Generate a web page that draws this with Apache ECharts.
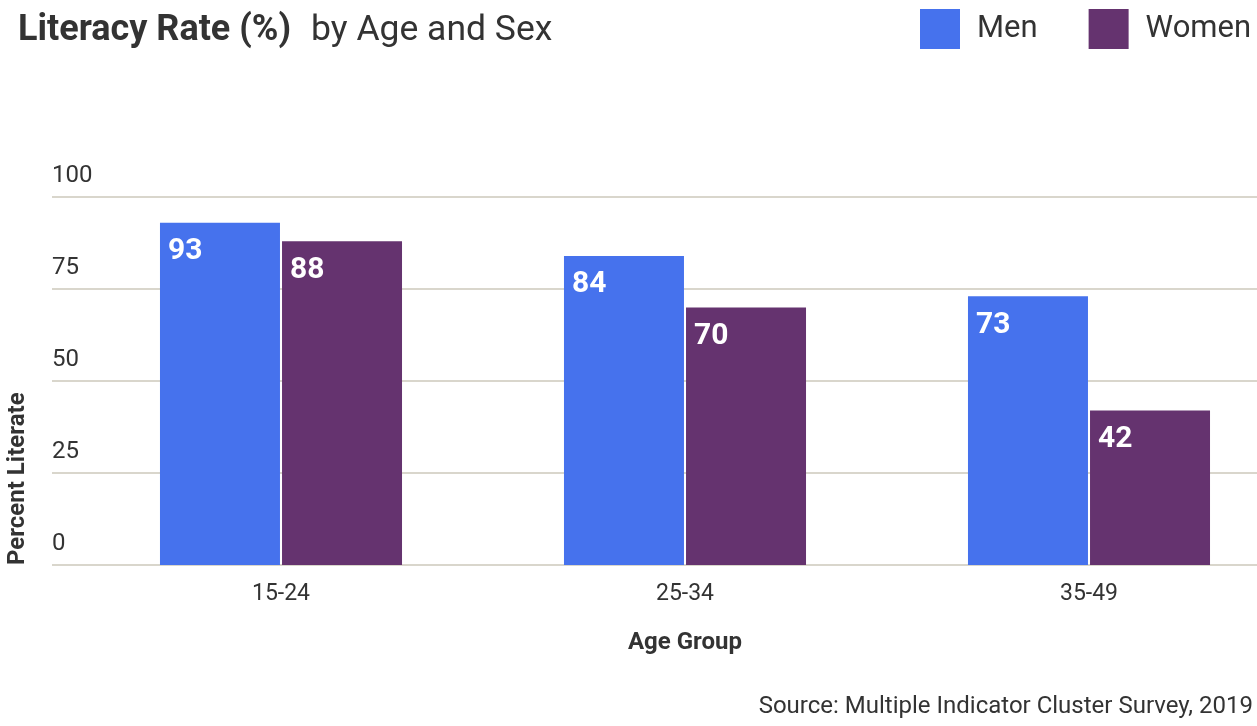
<!DOCTYPE html>
<html>
<head>
<meta charset="utf-8">
<script src="https://cdn.jsdelivr.net/npm/echarts@6/dist/echarts.min.js"></script>
<style>
html,body{margin:0;padding:0;background:#fff;overflow:hidden;}
#chart{width:1300px;height:726px;}
</style>
</head>
<body>
<div id="chart"></div>
<script>
var categories = ['15-24', '25-34', '35-49'];
var menValues = [93, 84, 73];
var womenValues = [88, 70, 42];
var seriesNames = ['Men', 'Women'];
var yTicks = [0, 25, 50, 75, 100];

var FONT = 'Roboto';
var TEXT = '#333333';
var chart = echarts.init(document.getElementById('chart'), null, {renderer: 'canvas'});
var option = {
  animation: false,
  backgroundColor: '#ffffff',
  textStyle: {fontFamily: FONT},
  title: [{
    text: '{b|Literacy Rate (%)}{r|by Age and Sex}',
    left: 18, top: 13, padding: 0,
    textStyle: {
      rich: {
        b: {fontFamily: FONT, fontSize: 36, fontWeight: 'bold', color: TEXT, padding: [0, 20, 0, 0]},
        r: {fontFamily: FONT, fontSize: 35.5, fontWeight: 'normal', color: TEXT}
      }
    }
  }, {
    text: 'Source: Multiple Indicator Cluster Survey, 2019',
    right: 47, top: 695, padding: 0,
    textStyle: {fontFamily: FONT, fontSize: 24, fontWeight: 'normal', color: TEXT}
  }],
  legend: {
    left: 920, top: 9, padding: 0,
    icon: 'rect', itemWidth: 40, itemHeight: 40, itemGap: 51,
    data: seriesNames,
    textStyle: {fontFamily: FONT, fontSize: 31, color: TEXT, padding: [10, 0, 0, 12]}
  },
  grid: [
    {left: 52, right: 43, top: 197, bottom: 161},
    {left: 79, right: 9, top: 197, bottom: 161}
  ],
  xAxis: [
    {gridIndex: 0, type: 'category', data: categories, show: false},
    {
      gridIndex: 1, type: 'category', data: categories,
      axisLine: {show: false}, axisTick: {show: false},
      axisLabel: {fontFamily: FONT, fontSize: 23, color: TEXT, margin: 18},
      name: 'Age Group', nameLocation: 'middle', nameGap: 66,
      nameTextStyle: {fontFamily: FONT, fontSize: 24, fontWeight: 'bold', color: TEXT}
    }
  ],
  yAxis: [
    {
      gridIndex: 0, type: 'value', min: 0, max: 100, interval: 25,
      axisLine: {show: false}, axisTick: {show: false},
      splitLine: {show: true, lineStyle: {color: '#d9d6cc', width: 2}},
      axisLabel: {
        inside: true, margin: 0, align: 'left', verticalAlign: 'bottom',
        padding: [0, 0, 9, 0],
        fontFamily: FONT, fontSize: 24, color: TEXT
      }
    },
    {gridIndex: 1, type: 'value', min: 0, max: 100, interval: 25, show: false, splitLine: {show: false}}
  ],
  graphic: [{
    type: 'text',
    x: 18, y: 565,
    rotation: Math.PI / 2,
    style: {
      text: 'Percent Literate',
      fontFamily: FONT, fontSize: 24, fontWeight: 'bold', fill: TEXT,
      textAlign: 'left', textVerticalAlign: 'middle'
    }
  }],
  series: [{
    name: seriesNames[0], type: 'bar', xAxisIndex: 1, yAxisIndex: 1,
    data: menValues, barWidth: 120, barGap: '1.7%',
    itemStyle: {color: '#4672ED'},
    label: {show: true, position: [8, 14], fontFamily: FONT, fontSize: 30, fontWeight: 'bold', color: '#ffffff'}
  }, {
    name: seriesNames[1], type: 'bar', xAxisIndex: 1, yAxisIndex: 1,
    data: womenValues, barWidth: 120,
    itemStyle: {color: '#65336F'},
    label: {show: true, position: [8, 14], fontFamily: FONT, fontSize: 30, fontWeight: 'bold', color: '#ffffff'}
  }]
};
chart.setOption(option);
</script>
</body>
</html>
